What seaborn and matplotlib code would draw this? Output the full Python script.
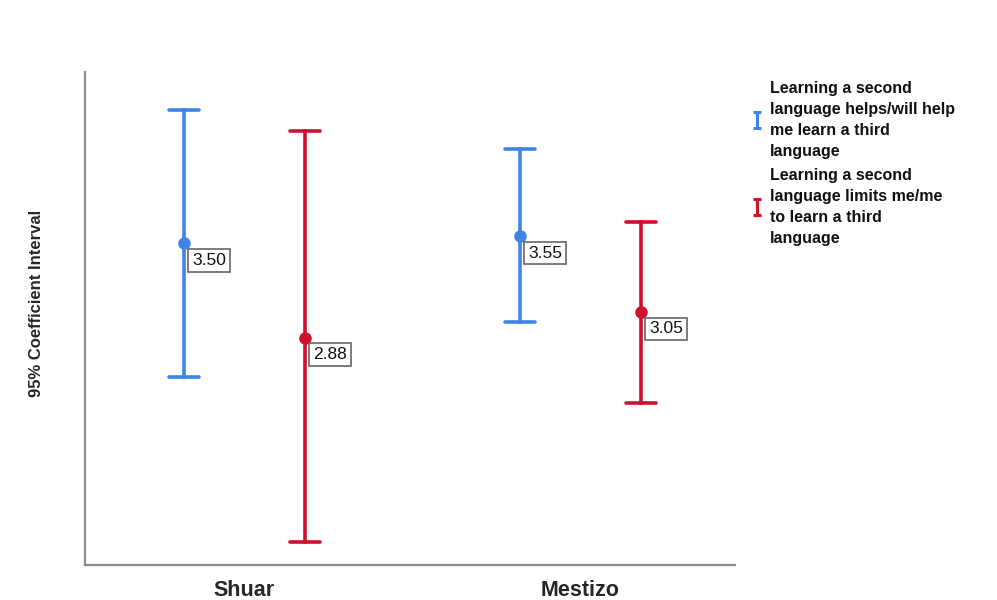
import pandas as pd
import numpy as np
import matplotlib
matplotlib.use("Agg")
import matplotlib.pyplot as plt
import seaborn as sns
from matplotlib.lines import Line2D
from matplotlib.path import Path

# values
groups = ["Shuar", "Mestizo"]
conditions = [
    "Learning a second\nlanguage helps/will help\nme learn a third\nlanguage",
    "Learning a second\nlanguage limits me/me\nto learn a third\nlanguage",
]
means = {conditions[0]: [3.50, 3.55], conditions[1]: [2.88, 3.05]}
lower = {conditions[0]: [2.62, 2.98], conditions[1]: [1.53, 2.45]}
upper = {conditions[0]: [4.38, 4.12], conditions[1]: [4.24, 3.64]}
colors = ["#3f84e4", "#d0102c"]

# long table: low / mean / high per cell, so median = mean and min-max = CI
rows = []
for cond in conditions:
    for i, g in enumerate(groups):
        for v in (lower[cond][i], means[cond][i], upper[cond][i]):
            rows.append({"group": g, "condition": cond, "value": v})
df = pd.DataFrame(rows)

sns.set_style("white")
plt.rcParams["font.family"] = ["Liberation Sans", "DejaVu Sans"]

fig = plt.figure(figsize=(9.97, 6), dpi=100)
ax = fig.add_axes([0.085, 0.058, 0.652, 0.822])

dodge = 0.36
sns.pointplot(data=df, x="group", y="value", hue="condition",
              order=groups, hue_order=conditions, palette=colors,
              estimator="median", errorbar=("pi", 100),
              dodge=dodge, linestyle="none", capsize=0.09,
              markersize=7, err_kws={"linewidth": 2.6},
              legend=False, ax=ax)

# value labels next to each mean
for j, cond in enumerate(conditions):
    off = -dodge / 2 + dodge * j
    for i, g in enumerate(groups):
        ax.annotate(f"{means[cond][i]:.2f}", xy=(i + off, means[cond][i]),
                    xytext=(6, -7), textcoords="offset points",
                    ha="left", va="top", fontsize=12.5, color="#111111",
                    bbox=dict(boxstyle="square,pad=0.22", fc="white",
                              ec="#666666", lw=1.2))

ax.set_xlim(-0.475, 1.46)
ax.set_ylim(1.38, 4.63)
ax.set_yticks([])
ax.set_xlabel("")
ax.set_ylabel("95% Coefficient Interval", fontsize=12, fontweight="bold")
ax.yaxis.set_label_coords(-0.062, 0.53)
ax.tick_params(axis="x", length=0, pad=11)
for lbl in ax.get_xticklabels():
    lbl.set_fontsize(15.5)
    lbl.set_fontweight("bold")
sns.despine(ax=ax)
for s in ("left", "bottom"):
    ax.spines[s].set_color("#8c8c8c")
    ax.spines[s].set_linewidth(1.6)

# small I-beam marker for the legend
ibeam = Path([(-0.5, 1), (0.5, 1), (0, 1), (0, -1), (-0.5, -1), (0.5, -1)],
             [Path.MOVETO, Path.LINETO, Path.MOVETO, Path.LINETO,
              Path.MOVETO, Path.LINETO])
handles = [Line2D([], [], linestyle="none", marker=ibeam, markersize=12,
                  markeredgewidth=2.2, markerfacecolor="none",
                  markeredgecolor=c) for c in colors]
leg = fig.legend(handles, conditions, loc="upper left",
                 bbox_to_anchor=(0.753, 0.865), frameon=False,
                 prop={"size": 11.5, "weight": "bold"},
                 handlelength=0.8, handletextpad=0.4, labelspacing=0.55,
                 borderpad=0, borderaxespad=0)
for t in leg.get_texts():
    t.set_linespacing(1.5)
    t.set_color("#111111")

fig.savefig("out.png", dpi=100)
